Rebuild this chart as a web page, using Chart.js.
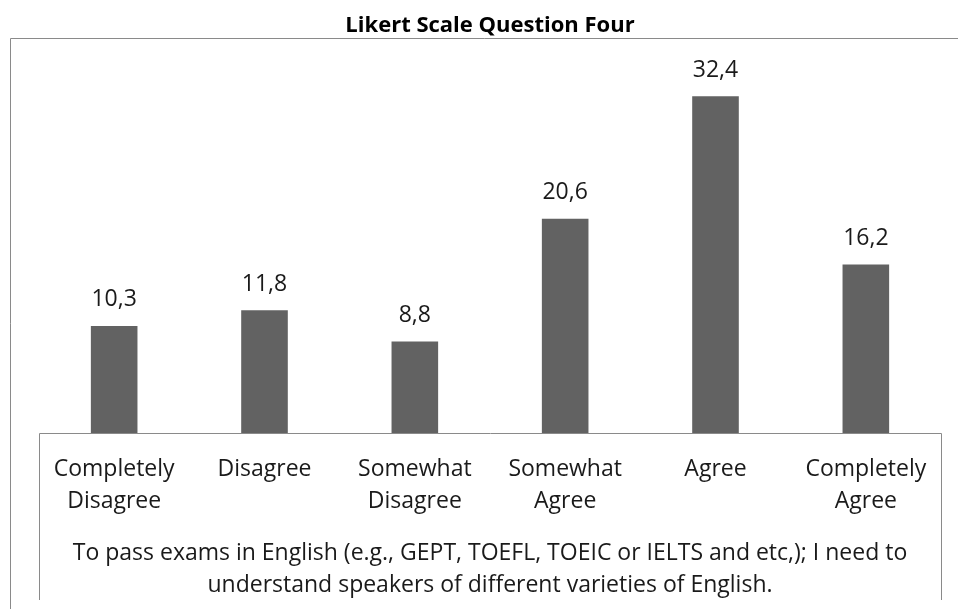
<!DOCTYPE html>
<html>
<head>
<meta charset="utf-8">
<title>Likert Scale Question Four</title>
<script src="https://cdn.jsdelivr.net/npm/chart.js@4/dist/chart.umd.min.js"></script>
<style>
  body { margin: 0; background: #fff; }
  canvas { display: block; }
</style>
</head>
<body>
<canvas id="likertChart" width="958" height="609"></canvas>
<script>
const categories = [
    ["Completely", "Disagree"],
    "Disagree",
    ["Somewhat", "Disagree"],
    ["Somewhat", "Agree"],
    "Agree",
    ["Completely", "Agree"]
];
const percentages = [10.3, 11.8, 8.8, 20.6, 32.4, 16.2];
const questionText = [
    "To pass exams in English (e.g., GEPT, TOEFL, TOEIC or IELTS and etc,); I need to",
    "understand speakers of different varieties of English."
];

const FONT = "'Open Sans', 'Noto Sans', sans-serif";
const frameColor = '#8a8a8a';

// value labels above each bar, with a comma as decimal mark
const valueLabels = {
    id: 'valueLabels',
    afterDatasetsDraw(chart) {
        const ctx = chart.ctx;
        const meta = chart.getDatasetMeta(0);
        ctx.save();
        ctx.font = '23px ' + FONT;
        ctx.fillStyle = '#1a1a1a';
        ctx.textAlign = 'center';
        ctx.textBaseline = 'middle';
        meta.data.forEach((bar, i) => {
            const txt = percentages[i].toFixed(1).replace('.', ',');
            ctx.fillText(txt, bar.x, bar.y - 26);
        });
        ctx.restore();
    }
};

// the grey frame lines round the plot and the category box
const frames = {
    id: 'frames',
    afterDraw(chart) {
        const ctx = chart.ctx;
        const area = chart.chartArea;
        ctx.save();
        ctx.strokeStyle = frameColor;
        ctx.lineWidth = 1;
        ctx.beginPath();
        // outer frame: top and left
        ctx.moveTo(chart.width, area.top + 0.5);
        ctx.lineTo(10.5, area.top + 0.5);
        ctx.lineTo(10.5, chart.height);
        // inner box under the bars
        ctx.moveTo(area.left + 0.5, 600);
        ctx.lineTo(area.left + 0.5, area.bottom + 0.5);
        ctx.lineTo(area.right + 0.5, area.bottom + 0.5);
        ctx.lineTo(area.right + 0.5, 600);
        ctx.stroke();
        ctx.restore();
    }
};

new Chart('likertChart', {
    type: 'bar',
    data: {
        labels: categories,
        datasets: [{
            data: percentages,
            backgroundColor: '#626262',
            categoryPercentage: 1,
            barPercentage: 0.31
        }]
    },
    options: {
        responsive: false,
        animation: false,
        layout: {
            padding: { left: 39, right: 17, top: 0, bottom: 8 }
        },
        plugins: {
            legend: { display: false },
            tooltip: { enabled: false },
            title: {
                display: true,
                text: 'Likert Scale Question Four',
                fullSize: false,
                color: '#000',
                font: { family: FONT, size: 22, weight: 'bold', lineHeight: 24 / 22 },
                padding: { top: 14, bottom: 0 }
            }
        },
        scales: {
            x: {
                grid: { display: false, drawTicks: false },
                border: { display: false },
                ticks: {
                    color: '#1a1a1a',
                    font: { family: FONT, size: 23, lineHeight: 32 / 23 },
                    padding: 20,
                    maxRotation: 0,
                    autoSkip: false
                },
                title: {
                    display: true,
                    text: questionText,
                    color: '#1a1a1a',
                    font: { family: FONT, size: 23, lineHeight: 32 / 23 },
                    padding: { top: 0, bottom: 0 }
                }
            },
            y: {
                display: false,
                min: 0,
                max: 38
            }
        }
    },
    plugins: [valueLabels, frames]
});
</script>
</body>
</html>
